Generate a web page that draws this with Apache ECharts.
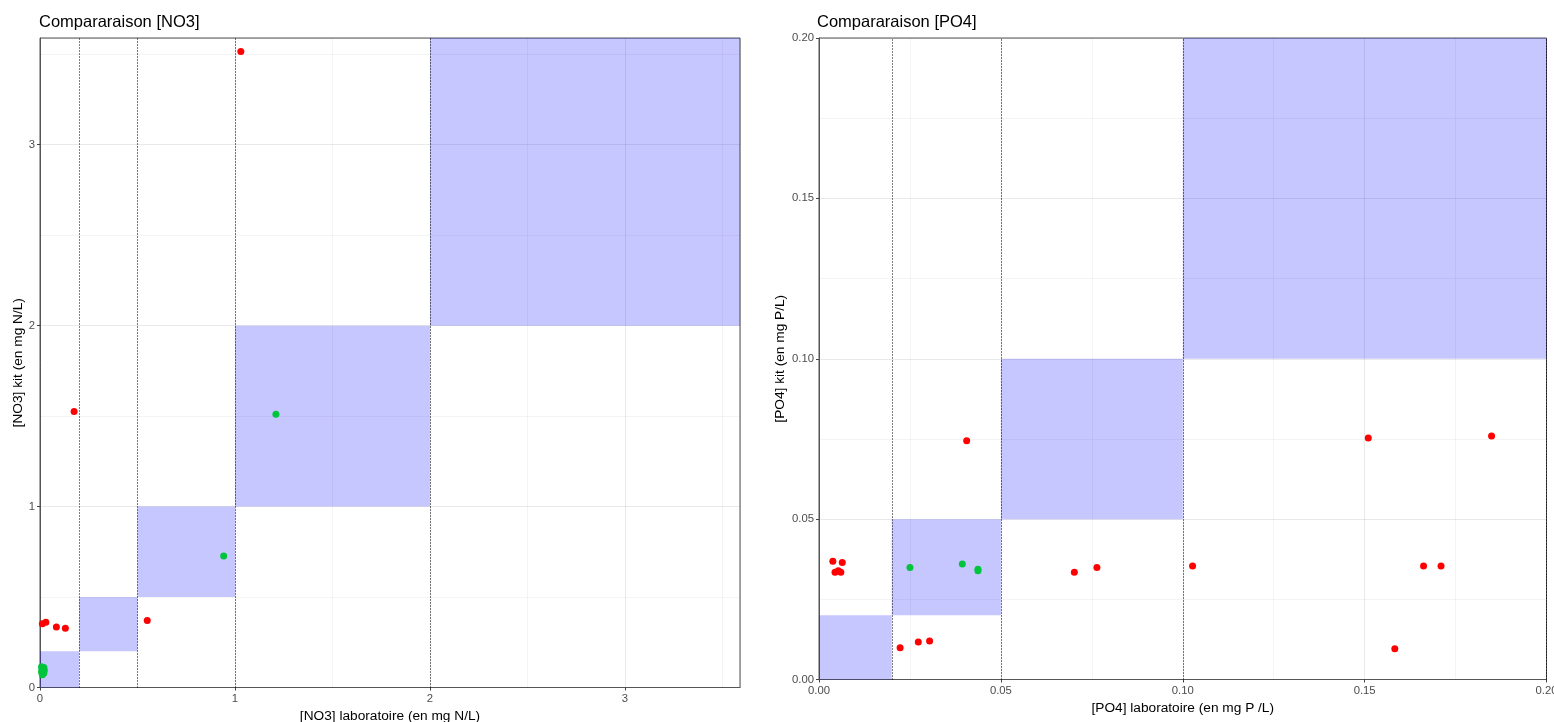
<!DOCTYPE html>
<html><head><meta charset="utf-8">
<script src="https://cdn.jsdelivr.net/npm/echarts@6/dist/echarts.min.js"></script>
<style>html,body{margin:0;padding:0;background:#fff}#c{width:1554px;height:722px}</style>
</head><body><div id="c"></div>
<script>
// ---- data ----
const no3Red = [[1.03,3.515],[0.175,1.525],[0.55,0.37],[0.012,0.352],[0.03,0.36],[0.084,0.335],[0.13,0.328]];
const no3Green = [[1.21,1.51],[0.942,0.727],[0.008,0.115],[0.02,0.11],[0.01,0.1],[0.022,0.095],[0.008,0.085],[0.02,0.08],[0.012,0.07]];
const po4Red = [[0.0038,0.0369],[0.0064,0.0365],[0.0044,0.0334],[0.0053,0.0339],[0.006,0.0334],[0.0223,0.0099],[0.0273,0.0117],[0.0304,0.012],[0.0406,0.0744],[0.0702,0.0334],[0.0764,0.0349],[0.1027,0.0354],[0.151,0.0753],[0.1849,0.0759],[0.1662,0.0354],[0.171,0.0354],[0.1583,0.0096]];
const po4Green = [[0.025,0.0349],[0.0394,0.036],[0.0437,0.0344],[0.0437,0.0339]];
const no3Classes = [0, 0.2, 0.5, 1, 2, 3.59];
const po4Classes = [0, 0.02, 0.05, 0.1, 0.2];
const no3Cuts = [0.2, 0.5, 1, 2];
const po4Cuts = [0.02, 0.05, 0.1, 0.2];
const no3Max = 3.59, po4Max = 0.2;
const no3Ticks = [0, 1, 2, 3];
const no3MinorTicks = [0.5, 1.5, 2.5, 3.5];
const po4Ticks = [0, 0.05, 0.1, 0.15, 0.2];
const titles = ['Compararaison [NO3]', 'Compararaison [PO4]'];
const xNames = ['[NO3] laboratoire (en mg N/L)', '[PO4] laboratoire (en mg P /L)'];
const yNames = ['[NO3] kit (en mg N/L)', '[PO4] kit (en mg P/L)'];

// ---- chart ----
const FONT = 'Liberation Sans, Arial, sans-serif';
const RED = '#ff0000', GREEN = '#00c43c';
const FILL = 'rgba(0,0,255,0.22)';
const MAJOR = 'rgba(0,0,0,0.085)';
const MINOR = 'rgba(0,0,0,0.045)';

function rects(cls) {
  const out = [];
  for (let i = 0; i < cls.length - 1; i++) {
    out.push([{ coord: [cls[i], cls[i]] }, { coord: [cls[i + 1], cls[i + 1]] }]);
  }
  return out;
}

function axis(type, idx, min, max, interval, name, gap, fmt, minor) {
  return {
    type: 'value', gridIndex: idx, min: min, max: max, interval: interval,
    name: name, nameLocation: 'middle', nameGap: gap,
    nameTextStyle: { fontFamily: FONT, fontSize: 13.7, color: '#000' },
    axisLine: { show: true, onZero: false, lineStyle: { color: '#555', width: 1 } },
    axisTick: { show: true, length: 3, lineStyle: { color: '#444' } },
    axisLabel: { show: true, fontFamily: FONT, fontSize: 11.3, color: '#4d4d4d',
      margin: type === 'x' ? 6 : 5, showMaxLabel: max !== no3Max,
      formatter: fmt },
    splitLine: { show: true, lineStyle: { color: MAJOR, width: 1 } },
    minorTick: { show: false, splitNumber: 2 },
    minorSplitLine: { show: !!minor, lineStyle: { color: MINOR, width: 1 } }
  };
}

const f0 = v => String(v);
const f2 = v => v.toFixed(2);

const TITLE_STYLE = { fontFamily: FONT, fontSize: 16.5, fontWeight: 'normal', color: '#000' };

const option = {
  animation: false,
  backgroundColor: '#fff',
  title: [
    { text: titles[0], left: 39, top: 14, padding: 0, textStyle: TITLE_STYLE },
    { text: titles[1], left: 817, top: 14, padding: 0, textStyle: TITLE_STYLE }
  ],
  grid: [
    { left: 40, top: 38, width: 700, height: 649.5, show: true, borderColor: '#555', borderWidth: 1, backgroundColor: 'transparent', containLabel: false, outerBoundsMode: 'none' },
    { left: 819, top: 38, width: 727.5, height: 641.5, show: true, borderColor: '#555', borderWidth: 1, backgroundColor: 'transparent', containLabel: false, outerBoundsMode: 'none' }
  ],
  xAxis: [
    axis('x', 0, 0, no3Max, 1, xNames[0], 21, f0, false),
    axis('x', 1, 0, po4Max, 0.05, xNames[1], 20, f2, true)
  ],
  yAxis: [
    axis('y', 0, 0, no3Max, 1, yNames[0], 14, f0, false),
    axis('y', 1, 0, po4Max, 0.05, yNames[1], 32, f2, true)
  ],
  series: [
    // minor grid lines for NO3 panel
    { type: 'scatter', xAxisIndex: 0, yAxisIndex: 0, data: [], z: 1, silent: true,
      markLine: { silent: true, symbol: 'none', label: { show: false },
        lineStyle: { color: MINOR, width: 1, type: 'solid' },
        data: no3MinorTicks.map(v => ({ xAxis: v })).concat(no3MinorTicks.map(v => ({ yAxis: v }))) } },
    // NO3 classes
    { type: 'scatter', xAxisIndex: 0, yAxisIndex: 0, data: [], z: 2, silent: true,
      markArea: { silent: true, itemStyle: { color: FILL }, data: rects(no3Classes) },
      markLine: { silent: true, symbol: 'none', label: { show: false },
        lineStyle: { color: '#000', width: 1, type: [1, 2] },
        data: no3Cuts.map(v => ({ xAxis: v })) } },
    { type: 'scatter', xAxisIndex: 0, yAxisIndex: 0, data: no3Red, symbolSize: 7, z: 5,
      itemStyle: { color: RED, opacity: 1 } },
    { type: 'scatter', xAxisIndex: 0, yAxisIndex: 0, data: no3Green, symbolSize: 7, z: 5,
      itemStyle: { color: GREEN, opacity: 1 } },
    // PO4 classes
    { type: 'scatter', xAxisIndex: 1, yAxisIndex: 1, data: [], z: 2, silent: true,
      markArea: { silent: true, itemStyle: { color: FILL }, data: rects(po4Classes) },
      markLine: { silent: true, symbol: 'none', label: { show: false },
        lineStyle: { color: '#000', width: 1, type: [1, 2] },
        data: po4Cuts.map(v => ({ xAxis: v })) } },
    { type: 'scatter', xAxisIndex: 1, yAxisIndex: 1, data: po4Red, symbolSize: 7, z: 5,
      itemStyle: { color: RED, opacity: 1 } },
    { type: 'scatter', xAxisIndex: 1, yAxisIndex: 1, data: po4Green, symbolSize: 7, z: 5,
      itemStyle: { color: GREEN, opacity: 1 } }
  ]
};

const chart = echarts.init(document.getElementById('c'), null, { renderer: 'canvas' });
chart.setOption(option);
</script>
</body></html>
